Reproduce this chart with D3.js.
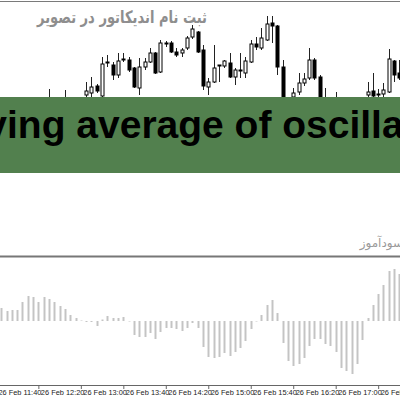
<!DOCTYPE html>
<html>
<head>
<meta charset="utf-8">
<script src="https://cdn.jsdelivr.net/npm/d3@7"></script>
<style>
  html, body { margin: 0; padding: 0; background: #fff; }
  svg { display: block; }
</style>
</head>
<body>
<div id="chart"></div>
<script>
// M5 bars, 26 Feb 11:45 .. 18:00 (price in arbitrary points)
const opens  = [120,125,121,129,135,133,143,140,137,142,148,141,144,146,139,143,155,157,164,154,187,185,175,190,190,182,162,183,188,197,178,206,207,198,197,202,213,218,200,163,168,184,184,187,173,179,177,188,206,202,210,227,224,183,140,153,158,167,172,190,173,140,148,143,149,144,140,146,143,155,159,155,156,158,189,177];
const highs  = [128,130,131,138,142,145,148,146,144,161,150,147,160,149,145,149,168,173,166,193,195,188,197,197,193,183,192,192,202,198,210,209,209,202,202,214,225,219,205,172,205,185,190,197,182,197,193,210,213,222,234,234,225,190,150,162,177,177,202,192,175,162,151,158,151,147,149,150,152,168,177,161,167,201,190,190];
const lows   = [115,118,119,126,130,131,137,134,133,139,138,135,140,136,132,139,148,153,157,153,183,170,172,188,178,162,155,180,187,176,177,203,197,193,193,200,211,197,160,155,167,168,182,172,165,172,172,187,200,200,209,207,175,130,132,148,155,164,170,170,135,135,138,140,139,133,136,138,141,150,150,152,153,157,168,170];
const closes = [125,121,129,135,133,143,140,137,142,148,141,144,146,139,143,147,159,163,159,186,188,175,189,191,180,163,183,188,197,177,207,207,198,195,200,212,221,198,164,168,182,185,189,173,180,180,189,206,203,212,226,224,183,140,145,157,167,171,190,172,140,150,143,149,144,140,146,143,150,158,154,156,160,191,175,172];

// OsMA histogram (x1e-5)
const osma = [13,10,11,11,19,25,24,19,24,22,19,15,12,6,3,0.5,-1,-1,-5,1.5,5,3,3,4,-0.5,-14,-16,-16,-12,-18,-11,-7,-7,-8,-10,-7,-2,-7,
              -26,-36,-37,-36,-32,-35,-31,-27,-20,-8,-0.5,6,16,21,8,-22,-40,-45,-43,-37,-25,-18,-18,-23,-25,-31,-47,-50,-53,-43,-19,3,16,27,36,50,52,47];

const tickTimes  = ["11:40","12:20","13:00","13:40","14:20","15:00","15:40","16:20","17:00","17:40"];
const tickLabels = ["26 Feb 11:40","26 Feb 12:20","26 Feb 13:00","26 Feb 13:40","26 Feb 14:20","26 Feb 15:00","26 Feb 15:40","26 Feb 16:20","26 Feb 17:00","26 Feb 17:40"];

const titleText  = "ثبت نام اندیکاتور در تصویر";
const bannerText = "Moving average of oscillator";
const watermark  = "سودآموز";

const width = 400, height = 400;
const parse = d3.timeParse("%Y-%m-%d %H:%M");
const t0 = parse("2021-02-26 11:45");
const times = opens.map((d, i) => d3.timeMinute.offset(t0, 5 * i));

const svg = d3.select("#chart").append("svg")
    .attr("width", width)
    .attr("height", height);

// Scales
const x = d3.scaleTime()
    .domain([times[0], times[times.length - 1]])
    .range([1.2, 399.4]);

const yPrice = d3.scaleLinear().domain([0, 250]).range([250, 0]);
const yOsma = d3.scaleLinear().domain([-60, 60]).range([381, 261]);

svg.append("clipPath").attr("id", "topclip")
  .append("rect").attr("x", 0).attr("y", 3).attr("width", width).attr("height", 251);

// Candles
const candles = svg.append("g").attr("clip-path", "url(#topclip)");
const bars = opens.map((o, i) => ({ t: times[i], o, h: highs[i], l: lows[i], c: closes[i] }));

candles.selectAll("line.wick")
    .data(bars)
    .join("line")
    .attr("class", "wick")
    .attr("x1", d => Math.round(x(d.t)) + 0.5)
    .attr("x2", d => Math.round(x(d.t)) + 0.5)
    .attr("y1", d => yPrice(d.h))
    .attr("y2", d => yPrice(d.l))
    .attr("stroke", "#222")
    .attr("stroke-width", 1);

candles.selectAll("rect.body")
    .data(bars)
    .join("rect")
    .attr("class", "body")
    .attr("x", d => Math.round(x(d.t)) - 1)
    .attr("y", d => yPrice(Math.max(d.o, d.c)))
    .attr("width", 3)
    .attr("height", d => Math.max(1, Math.abs(yPrice(d.o) - yPrice(d.c))))
    .attr("fill", d => d.c >= d.o ? "#fff" : "#000")
    .attr("stroke", "#000")
    .attr("stroke-width", 1);

// Title (persian)
svg.append("text")
    .attr("x", 207)
    .attr("y", 23)
    .attr("text-anchor", "end")
    .attr("textLength", 170)
    .attr("lengthAdjust", "spacingAndGlyphs")
    .style("font-family", "'DejaVu Sans', 'Noto Sans', sans-serif")
    .style("font-size", "17px")
    .style("font-weight", "bold")
    .style("fill", "#8e8e8e")
    .text(titleText);

// Green banner
svg.append("rect")
    .attr("x", 0)
    .attr("y", 97)
    .attr("width", width)
    .attr("height", 76)
    .attr("fill", "#52804e");

svg.append("text")
    .attr("x", -71)
    .attr("y", 138)
    .style("font-family", "'Liberation Sans', Arial, sans-serif")
    .style("font-size", "39px")
    .style("font-weight", "bold")
    .style("fill", "#000")
    .text(bannerText);

// Watermark
svg.append("text")
    .attr("x", 403)
    .attr("y", 247)
    .attr("text-anchor", "end")
    .style("font-family", "'DejaVu Sans', sans-serif")
    .style("font-size", "12px")
    .style("fill", "#9a9a9a")
    .text(watermark);

// Frame lines
svg.append("line")
    .attr("x1", 0).attr("x2", width)
    .attr("y1", 1.5).attr("y2", 1.5)
    .attr("stroke", "#7a7a7a").attr("stroke-width", 1);

svg.append("line")
    .attr("x1", 0).attr("x2", width)
    .attr("y1", 256.5).attr("y2", 256.5)
    .attr("stroke", "#777").attr("stroke-width", 2);

// OsMA histogram
svg.selectAll("line.osma")
    .data(osma)
    .join("line")
    .attr("class", "osma")
    .attr("x1", (d, i) => Math.round(x(times[i])) + 0.5)
    .attr("x2", (d, i) => Math.round(x(times[i])) + 0.5)
    .attr("y1", yOsma(0))
    .attr("y2", d => yOsma(d))
    .attr("stroke", "#c4c4c4")
    .attr("stroke-width", 2);

// X axis
const tickDates = tickTimes.map(t => parse("2021-02-26 " + t));
const axis = svg.append("g")
    .attr("transform", "translate(0,385)")
    .call(d3.axisBottom(x)
        .tickValues(tickDates)
        .tickSize(4)
        .tickFormat((d, i) => tickLabels[i]));

axis.select(".domain")
    .attr("d", `M0,0.5H${width}`)
    .attr("stroke", "#666");
axis.selectAll(".tick line").attr("stroke", "#666").attr("y1", 0.5);
axis.selectAll(".tick text")
    .attr("text-anchor", "start")
    .attr("x", 2)
    .attr("y", 5)
    .attr("dy", "0.71em")
    .style("font-family", "'Liberation Sans', Arial, sans-serif")
    .style("font-size", "7.4px")
    .style("fill", "#222");
</script>
</body>
</html>
